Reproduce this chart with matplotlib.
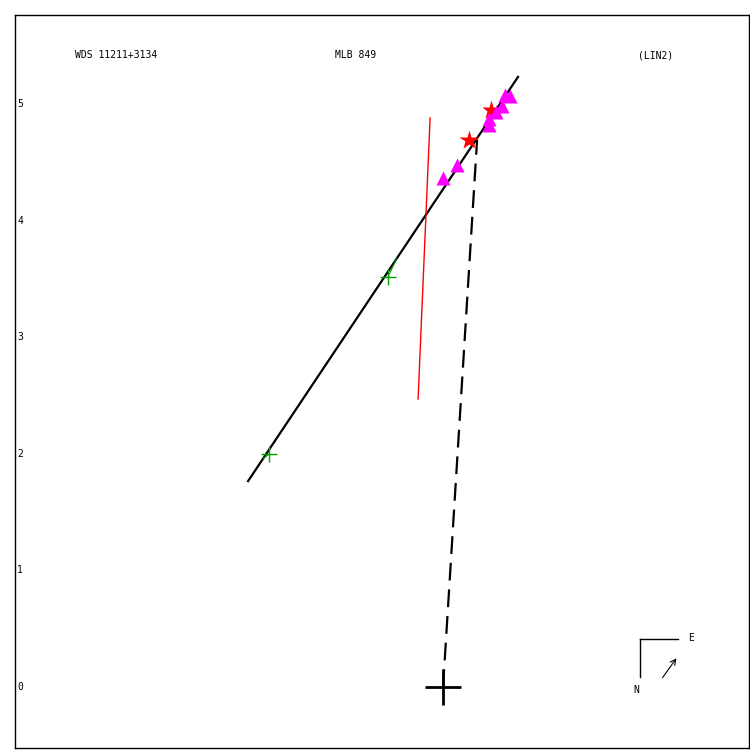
import matplotlib
matplotlib.use("Agg")
import matplotlib.pyplot as plt
import matplotlib.transforms as mtransforms
import numpy as np

# orbit / fit data (arcsec, relative to primary)
fit_x = [-1.672, 0.643]
fit_y = [1.766, 5.232]
red_x = [-0.214, -0.111]
red_y = [2.470, 4.880]
dash_x = [0.0, 0.292]
dash_y = [0.0, 4.691]
tri_x = [0.000, 0.120, 0.395, 0.395, 0.455, 0.506, 0.532, 0.575]
tri_y = [4.365, 4.477, 4.820, 4.871, 4.931, 4.983, 5.077, 5.069]
star_x = [0.223, 0.412]
star_y = [4.691, 4.949]
plus_x = [-0.472, -1.492]
plus_y = [3.516, 1.998]
plus_end_x = [-0.400, -1.540]
plus_end_y = [3.670, 1.960]
yticks = [0, 1, 2, 3, 4, 5]
title_left = "WDS 11211+3134"
title_mid = "MLB 849"
title_right = "(LIN2)"

mono = "DejaVu Sans Mono"

fig = plt.figure(figsize=(7.5, 7.5), dpi=100)
ax = fig.add_axes([15/750, 2/750, 734/750, 733/750])
ax.set_xlim(-3.671, 2.624)
ax.set_ylim(-0.523, 5.763)
ax.set_xticks([])
ax.set_yticks([])
for s in ax.spines.values():
    s.set_linewidth(1)

ax.plot(fit_x, fit_y, color="black", lw=1.6)
ax.plot(red_x, red_y, color="red", lw=1.0)
ax.plot(dash_x, dash_y, color="black", lw=1.6, dashes=(8, 4))

for x0, y0, x1, y1 in zip(plus_x, plus_y, plus_end_x, plus_end_y):
    ax.plot([x0, x1], [y0, y1], color="#00a000", lw=0.8)
ax.plot(plus_x, plus_y, "+", color="#00a000", ms=11, mew=1)

ax.plot(star_x[1:], star_y[1:], "*", color="red", ms=14, mec="none")
ax.plot(tri_x, tri_y, "^", color="#ff00ff", ms=10, mec="none")
ax.plot(star_x[:1], star_y[:1], "*", color="red", ms=15, mec="none")
ax.plot([0], [0], "+", color="black", ms=26, mew=2)

trans = mtransforms.blended_transform_factory(ax.transAxes, ax.transData)
for t in yticks:
    ax.text(0.003, t, str(t), transform=trans, fontsize=7, family=mono,
            va="center", ha="left")

ax.text(0.0817, 0.945, title_left, transform=ax.transAxes, fontsize=7,
        family=mono, ha="left", va="center")
ax.text(0.4646, 0.945, title_mid, transform=ax.transAxes, fontsize=7,
        family=mono, ha="center", va="center")
ax.text(0.849, 0.945, title_right, transform=ax.transAxes, fontsize=7,
        family=mono, ha="left", va="center")

# compass
ax.plot([0.8515, 0.8515], [0.0969, 0.1487], color="black", lw=1,
        transform=ax.transAxes)
ax.plot([0.8515, 0.9033], [0.1487, 0.1487], color="black", lw=1,
        transform=ax.transAxes)
ax.text(0.917, 0.150, "E", transform=ax.transAxes, fontsize=7, family=mono,
        ha="left", va="center")
ax.text(0.847, 0.079, "N", transform=ax.transAxes, fontsize=7, family=mono,
        ha="center", va="center")
ax.annotate("", xy=(0.9033, 0.1255), xytext=(0.880, 0.0928),
            xycoords=ax.transAxes,
            arrowprops=dict(arrowstyle="->", lw=0.8, color="black"))

fig.savefig("out.png", dpi=100)
